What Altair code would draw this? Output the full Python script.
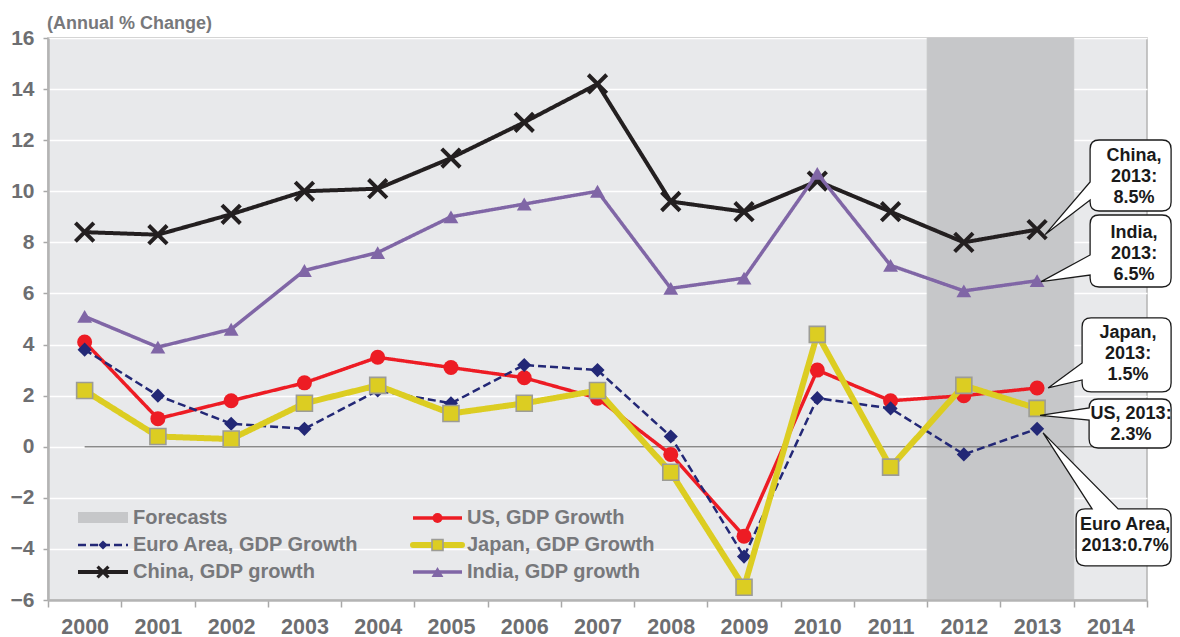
import altair as alt
import pandas as pd

# ---------------- data ----------------
years = ["2000", "2001", "2002", "2003", "2004", "2005", "2006", "2007",
         "2008", "2009", "2010", "2011", "2012", "2013", "2014"]
data_years = ["2000", "2001", "2002", "2003", "2004", "2005", "2006", "2007",
              "2008", "2009", "2010", "2011", "2012", "2013"]
forecast_years = ["2012", "2013"]

us_growth = [4.1, 1.1, 1.8, 2.5, 3.5, 3.1, 2.7, 1.9, -0.3, -3.5, 3.0, 1.8, 2.0, 2.3]
euro_growth = [3.8, 2.0, 0.9, 0.7, 2.2, 1.7, 3.2, 3.0, 0.4, -4.3, 1.9, 1.5, -0.3, 0.7]
japan_growth = [2.2, 0.4, 0.3, 1.7, 2.4, 1.3, 1.7, 2.2, -1.0, -5.5, 4.4, -0.8, 2.4, 1.5]
china_growth = [8.4, 8.3, 9.1, 10.0, 10.1, 11.3, 12.7, 14.2, 9.6, 9.2, 10.4, 9.2, 8.0, 8.5]
india_growth = [5.1, 3.9, 4.6, 6.9, 7.6, 9.0, 9.5, 10.0, 6.2, 6.6, 10.7, 7.1, 6.1, 6.5]

series_labels = ["US, GDP Growth", "Euro Area, GDP Growth", "Japan, GDP Growth",
                 "China, GDP growth", "India, GDP growth"]
forecast_label = "Forecasts"
y_title = "(Annual % Change)"
y_ticks = [-6, -4, -2, 0, 2, 4, 6, 8, 10, 12, 14, 16]

callout_texts = ["China,\n2013:\n8.5%", "India,\n2013:\n6.5%", "Japan,\n2013:\n1.5%",
                 "US, 2013:\n2.3%", "Euro Area,\n2013:0.7%"]

# ---------------- styles ----------------
FONT = "Liberation Sans"
GRAY_TXT = "#6d6e71"
W, H = 1099, 562
FC_GRAY = "#c6c7c9"

styles = {
    "US, GDP Growth": dict(color="#ed1c24", sw=3.5, dash=[1, 0], shape="circle", size=225,
                           fill="#ed1c24", stroke="#ed1c24", msw=0, lsize=100),
    "Euro Area, GDP Growth": dict(color="#232876", sw=2.5, dash=[8, 4], shape="diamond", size=200,
                                  fill="#232876", stroke="#232876", msw=0, lsize=85),
    "Japan, GDP Growth": dict(color="#dccd22", sw=6, dash=[1, 0], shape="square", size=256,
                              fill="#dccd22", stroke="#9c9c96", msw=1.6, lsize=121),
    "China, GDP growth": dict(color="#231f20", sw=4, dash=[1, 0], shape="M-1,-1L1,1M1,-1L-1,1", size=340,
                              fill=None, stroke="#231f20", msw=4, lsize=120),
    "India, GDP growth": dict(color="#8066a6", sw=3.5, dash=[1, 0], shape="triangle-up", size=220,
                              fill="#8066a6", stroke="#8066a6", msw=0, lsize=140),
}
series_values = [us_growth, euro_growth, japan_growth, china_growth, india_growth]

X = alt.X("year:N",
          scale=alt.Scale(type="band", domain=years, paddingInner=0, paddingOuter=0),
          axis=alt.Axis(title=None, labelAngle=0, tickBand="extent", grid=False,
                        labelFont=FONT, labelFontSize=21.5, labelFontWeight="bold",
                        labelColor=GRAY_TXT, labelPadding=9, tickSize=7, tickWidth=1.5,
                        tickColor="#a8a8a8", domainColor="#b4b4b4", domainWidth=2.5))
Y = alt.Y("value:Q",
          scale=alt.Scale(domain=[-6, 16], nice=False, zero=False),
          axis=alt.Axis(title=None, values=y_ticks, grid=True, gridColor="#ffffff",
                        gridWidth=1.6, labelFont=FONT, labelFontSize=21,
                        labelFontWeight="bold", labelColor=GRAY_TXT, labelPadding=9,
                        tickSize=5, tickWidth=1.5, tickColor="#a8a8a8",
                        domainColor="#b4b4b4", domainWidth=2.5))

layers = []

# forecast shading
fc_df = pd.DataFrame({"year": forecast_years})
layers.append(alt.Chart(fc_df).mark_rect(color=FC_GRAY, stroke=FC_GRAY, strokeWidth=1).encode(
    x=X, y=alt.value(0), y2=alt.value(H)))

# zero line
zero_df = pd.DataFrame({"year": [data_years[0]], "value": [0]})
layers.append(alt.Chart(zero_df).mark_rule(color="#8a8a8a", strokeWidth=1.5).encode(
    x=X, x2=alt.value(W), y=Y))

# series (draw order: China, India, US, Euro, Japan)
order = [3, 4, 0, 1, 2]
for i in order:
    name = series_labels[i]
    st = styles[name]
    df = pd.DataFrame({"year": data_years, "value": series_values[i], "series": name})
    base = alt.Chart(df)
    layers.append(base.mark_line(color=st["color"], strokeWidth=st["sw"],
                                 strokeDash=st["dash"], strokeJoin="miter").encode(x=X, y=Y))
    pkw = dict(shape=st["shape"], size=st["size"], opacity=1,
               stroke=st["stroke"], strokeWidth=st["msw"])
    if st["fill"] is None:
        pkw.update(filled=False)
    else:
        pkw.update(filled=True, fill=st["fill"])
    layers.append(base.mark_point(**pkw).encode(x=X, y=Y))

# ---------------- legend (manual) ----------------
leg_rows = [480, 507, 534]
leg_cols = [(30, 80, 85), (365, 414, 419)]
legend_order = [("forecast", None), ("series", 0), ("series", 1), ("series", 2),
                ("series", 3), ("series", 4)]
one = pd.DataFrame({"a": [0]})
for k, (kind, idx) in enumerate(legend_order):
    r, c = k // 2, k % 2
    yv = leg_rows[r]
    x0, x1, xt = leg_cols[c]
    if kind == "forecast":
        layers.append(alt.Chart(one).mark_rect(color=FC_GRAY).encode(
            x=alt.value(x0), x2=alt.value(x1), y=alt.value(yv - 6), y2=alt.value(yv + 5)))
        label = forecast_label
    else:
        name = series_labels[idx]
        st = styles[name]
        cap = "round" if name.startswith("Japan") else "butt"
        layers.append(alt.Chart(one).mark_rule(color=st["color"], strokeWidth=st["sw"],
                                               strokeDash=st["dash"], strokeCap=cap).encode(
            x=alt.value(x0), x2=alt.value(x1), y=alt.value(yv)))
        pkw = dict(shape=st["shape"], size=st["lsize"], opacity=1,
                   stroke=st["stroke"], strokeWidth=st["msw"] * (0.8 if st["fill"] is None else 1))
        if st["fill"] is None:
            pkw.update(filled=False)
        else:
            pkw.update(filled=True, fill=st["fill"])
        layers.append(alt.Chart(one).mark_point(**pkw).encode(
            x=alt.value((x0 + x1) / 2), y=alt.value(yv)))
        label = name
    layers.append(alt.Chart(pd.DataFrame({"t": [label]})).mark_text(
        align="left", baseline="middle", font=FONT, fontSize=20, fontWeight="bold",
        color="#77787b").encode(x=alt.value(xt), y=alt.value(yv), text="t:N"))

# y title
layers.append(alt.Chart(pd.DataFrame({"t": [y_title]})).mark_text(
    align="left", baseline="middle", font=FONT, fontSize=18, fontWeight="bold",
    color="#77787b").encode(x=alt.value(-1), y=alt.value(-14), text="t:N"))


# ---------------- callouts ----------------
def fmt(v):
    return f"{v:.1f}"


def callout_path(box, tip, side, b1, b2, r=9):
    x0, y0, x1, y1 = box
    tx, ty = tip
    p = [f"M{fmt(tx)},{fmt(ty)}"]
    if side == "left":
        p.append(f"L{fmt(x0)},{fmt(b2)}")
        p.append(f"L{fmt(x0)},{fmt(y1 - r)}Q{fmt(x0)},{fmt(y1)} {fmt(x0 + r)},{fmt(y1)}")
        p.append(f"L{fmt(x1 - r)},{fmt(y1)}Q{fmt(x1)},{fmt(y1)} {fmt(x1)},{fmt(y1 - r)}")
        p.append(f"L{fmt(x1)},{fmt(y0 + r)}Q{fmt(x1)},{fmt(y0)} {fmt(x1 - r)},{fmt(y0)}")
        p.append(f"L{fmt(x0 + r)},{fmt(y0)}Q{fmt(x0)},{fmt(y0)} {fmt(x0)},{fmt(y0 + r)}")
        p.append(f"L{fmt(x0)},{fmt(b1)}Z")
    else:  # top
        p.append(f"L{fmt(b1)},{fmt(y0)}")
        p.append(f"L{fmt(x0 + r)},{fmt(y0)}Q{fmt(x0)},{fmt(y0)} {fmt(x0)},{fmt(y0 + r)}")
        p.append(f"L{fmt(x0)},{fmt(y1 - r)}Q{fmt(x0)},{fmt(y1)} {fmt(x0 + r)},{fmt(y1)}")
        p.append(f"L{fmt(x1 - r)},{fmt(y1)}Q{fmt(x1)},{fmt(y1)} {fmt(x1)},{fmt(y1 - r)}")
        p.append(f"L{fmt(x1)},{fmt(y0 + r)}Q{fmt(x1)},{fmt(y0)} {fmt(x1 - r)},{fmt(y0)}")
        p.append(f"L{fmt(b2)},{fmt(y0)}Z")
    return "".join(p)


# (target series index, box, tip, side, b1, b2, text dx, first-line dy) relative to the 2013 point
callout_geom = [
    (3, (53, -89.6, 134, -18.6), (8, 5), "left", -47.6, -29.6, 97, -73.6),
    (4, (53, -65.7, 134, 6.3), (4, 1), "left", -25.7, -5.7, 97, -47.7),
    (0, (45, -70, 134, 4), (11, 0), "left", -25, -8, 91, -55),
    (2, (52, -9.4, 134, 39.6), (3, 7), "left", -0.4, 11.6, 94, 5.6),
    (1, (39, 80, 134, 137), (6, 4), "top", 55, 81, 88, 96.2),
]
for (idx, box, tip, side, b1, b2, tdx, tdy), txt in zip(callout_geom, callout_texts):
    v = series_values[idx][data_years.index("2013")]
    cdf = pd.DataFrame({"year": ["2013"], "value": [v], "t": [txt]})
    path = callout_path(box, tip, side, b1, b2)
    layers.append(alt.Chart(cdf).mark_point(shape=path, size=4, filled=True, fill="#ffffff",
                                            stroke="#1a1a1a", strokeWidth=1.3, opacity=1).encode(
        x=X, y=Y))
    layers.append(alt.Chart(cdf).mark_text(
        align="center", baseline="middle", font=FONT, fontSize=18, fontWeight="bold",
        lineBreak="\n", lineHeight=21, color="#1a1a1a", dx=tdx, dy=tdy).encode(
        x=X, y=Y, text="t:N"))

chart = alt.layer(*layers).properties(
    width=W, height=H,
    padding={"left": 40, "top": 30, "right": 25, "bottom": 37},
    autosize=alt.AutoSizeParams(type="none"),
    background="#ffffff",
).configure_view(
    fill="#e8e9eb", stroke="#b4b4b4", strokeWidth=1.5
)

chart.save("out.html", embed_options={"renderer": "svg", "actions": False})
